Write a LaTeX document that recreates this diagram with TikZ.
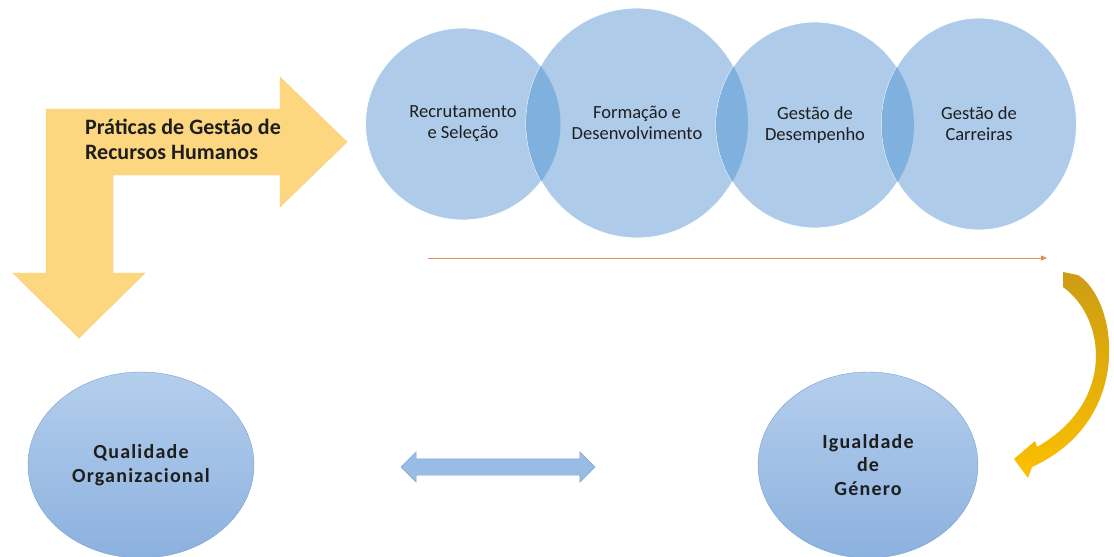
\documentclass[tikz,border=0pt]{standalone}
\usepackage{fontspec}
\setmainfont{Carlito}
\usetikzlibrary{positioning,arrows.meta,shapes.geometric,shapes.arrows}
\definecolor{stagefill}{RGB}{174,204,233}
\definecolor{stageoverlap}{RGB}{128,176,222}
\definecolor{goaltop}{RGB}{180,206,237}
\definecolor{goalbottom}{RGB}{140,177,222}
\definecolor{goalline}{RGB}{122,160,210}
\definecolor{bentfill}{RGB}{253,215,128}
\definecolor{bentline}{RGB}{246,204,112}
\definecolor{flowline}{RGB}{226,138,88}
\definecolor{loopdark}{RGB}{204,156,20}
\definecolor{looplight}{RGB}{252,192,0}
\definecolor{linkfill}{RGB}{152,188,228}
\definecolor{linkline}{RGB}{126,164,214}
\definecolor{inktext}{RGB}{30,30,30}
\tikzset{
    every node/.style = {
        inner sep = 0pt,
        outer sep = 0pt,
        text = inktext
    },
    stage/.style = {
        ellipse,
        draw = white,
        line width = 0.8pt,
        fill = stagefill,
        align = center,
        font = \fontsize{18.5}{21}\selectfont
    },
    goal/.style = {
        ellipse,
        draw = goalline,
        top color = goaltop,
        bottom color = goalbottom,
        align = center,
        font = \fontsize{20}{23.5}\selectfont\bfseries\addfontfeature{LetterSpace=6}
    },
    heading/.style = {
        align = left,
        font = \fontsize{22}{25}\selectfont\bfseries
    },
    flow/.style = {
        -{Triangle[length=6pt,width=5pt]},
        draw = flowline,
        line width = 0.8pt
    },
    link/.style = {
        double arrow,
        draw = linkline,
        fill = linkfill,
        inner xsep = 0pt,
        inner ysep = 8pt,
        double arrow head extend = 7pt,
        minimum height = 194pt
    }
}

\begin{document}
\begin{tikzpicture}[x=1pt,y=-1pt]
    \useasboundingbox[fill=white] (0,0) rectangle (1114,557);
    \filldraw[fill=bentfill,draw=bentline,line join=miter]
        (46,109) -- (280,109) -- (280,77) -- (347,142) -- (280,207) -- (280,175)
        -- (113,175) -- (113,273) -- (145,273) -- (79,338) -- (13,273) -- (46,273) -- cycle;
    \node (hrm) at (183,139) [heading]{Práticas de Gestão de\\Recursos Humanos};
    \node (rs) at (463,124) [stage, minimum width=195pt, minimum height=192pt]{Recrutamento\\e Seleção};
    \node (fd) at (637,123) [stage, minimum width=222pt, minimum height=230pt]{Formação e\\Desenvolvimento};
    \node (gd) at (815,125) [stage, minimum width=198pt, minimum height=206pt]{Gestão de\\Desempenho};
    \node (gc) at (979,124) [stage, minimum width=195pt, minimum height=212pt]{Gestão de\\Carreiras};
    \begin{scope}
        \clip (rs.center) ellipse [x radius=97.5pt, y radius=96pt];
        \fill[stageoverlap] (fd.center) ellipse [x radius=111pt, y radius=115pt];
    \end{scope}
    \begin{scope}
        \clip (fd.center) ellipse [x radius=111pt, y radius=115pt];
        \fill[stageoverlap] (gd.center) ellipse [x radius=99pt, y radius=103pt];
    \end{scope}
    \begin{scope}
        \clip (gd.center) ellipse [x radius=99pt, y radius=103pt];
        \fill[stageoverlap] (gc.center) ellipse [x radius=97.5pt, y radius=106pt];
    \end{scope}
    \coordinate (flowstart) at (428,258);
    \coordinate (flowend) at (1047,258);
    \draw[flow] (flowstart) -- (flowend);
    \shade[top color=loopdark,bottom color=looplight]
        (1063,272) -- (1078,275) .. controls (1118,300) and (1135,420) .. (1032,467)
        -- (1028,478) -- (1014,459) -- (1035,441) -- (1037,447)
        .. controls (1116,402) and (1106,318) .. (1063,287) -- cycle;
    \node (qo) at (141,465) [goal, minimum width=226pt, minimum height=186pt]{Qualidade\\Organizacional};
    \node (ig) at (868,465) [goal, minimum width=220pt, minimum height=186pt]{Igualdade\\de\\Género};
    \node (link) at (498,467) [link]{};
\end{tikzpicture}
\end{document}
